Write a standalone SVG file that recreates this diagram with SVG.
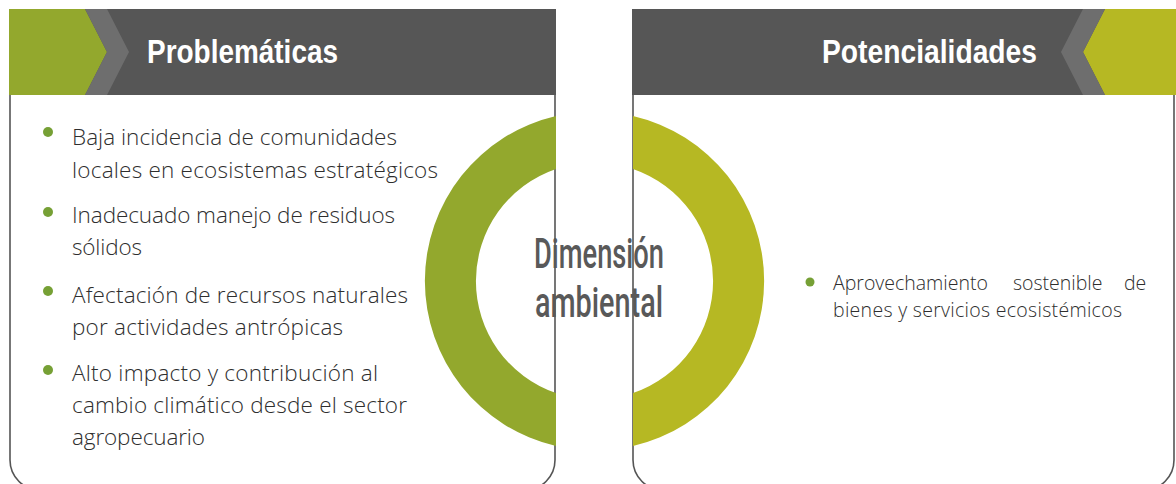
<svg xmlns="http://www.w3.org/2000/svg" width="1176" height="484" viewBox="0 0 1176 484">
  <style>
    .hdr { fill: #565656; }
    .chev { fill: #6e6e6e; }
    .body { fill: none; stroke: #555555; stroke-width: 1.6; }
    .title { font-family: "Liberation Sans", Arial, sans-serif; font-weight: bold; font-size: 33px; fill: #ffffff; }
    .item { font-family: "Open Sans", "Liberation Sans", sans-serif; font-weight: 300; font-size: 22.5px; fill: #2e2e2e; }
    .item2 { font-family: "Open Sans", "Liberation Sans", sans-serif; font-weight: 300; font-size: 19.5px; fill: #2e2e2e; }
    .dot { fill: #76a035; }
    .center { font-family: Roboto, "Liberation Sans", sans-serif; font-weight: 500; font-size: 42px; fill: #595959; }
  </style>
  <rect width="1176" height="484" fill="#ffffff"/>
  <g id="connectors"></g>

  <g id="problematicas">
    <rect class="hdr" x="9" y="9" width="547" height="86"/>
    <polygon fill="#93a82d" points="9,9 85,9 107,52 85,95 9,95"/>
    <polygon class="chev" points="85,9 107,9 129,52 107,95 85,95 107,52"/>
    <text class="title" x="147" y="63" textLength="191" lengthAdjust="spacingAndGlyphs">Problemáticas</text>
    <path class="body" d="M10,95 L10,460 A30,30 0 0 0 40,490 L525,490 A30,30 0 0 0 555,460 L555,95"/>
    <circle class="dot" cx="48" cy="132" r="5"/>
    <text class="item" x="72" y="145" textLength="325">Baja incidencia de comunidades</text>
    <text class="item" x="72" y="177.5" textLength="366">locales en ecosistemas estratégicos</text>
    <circle class="dot" cx="48" cy="212" r="5"/>
    <text class="item" x="72" y="223" textLength="323">Inadecuado manejo de residuos</text>
    <text class="item" x="72" y="255" textLength="70">sólidos</text>
    <circle class="dot" cx="48" cy="291" r="5"/>
    <text class="item" x="72" y="303" textLength="336">Afectación de recursos naturales</text>
    <text class="item" x="72" y="335" textLength="271">por actividades antrópicas</text>
    <circle class="dot" cx="48" cy="370" r="5"/>
    <text class="item" x="72" y="381" textLength="306">Alto impacto y contribución al</text>
    <text class="item" x="72" y="413" textLength="335">cambio climático desde el sector</text>
    <text class="item" x="72" y="445" textLength="133">agropecuario</text>
  </g>

  <g id="potencialidades">
    <rect class="hdr" x="632" y="9" width="544" height="86"/>
    <polygon fill="#b6b823" points="1105,9 1176,9 1176,95 1105,95 1083,52"/>
    <polygon class="chev" points="1083,9 1105,9 1083,52 1105,95 1083,95 1061,52"/>
    <text class="title" x="1037" y="63" text-anchor="end" textLength="215" lengthAdjust="spacingAndGlyphs">Potencialidades</text>
    <path class="body" d="M633,95 L633,460 A30,30 0 0 0 663,490 L1144,490 A30,30 0 0 0 1174,460 L1174,95"/>
    <circle class="dot" cx="810" cy="282" r="4.5"/>
    <text class="item2" y="290"><tspan x="833">Aprovechamiento</tspan><tspan x="1013">sostenible</tspan><tspan x="1124">de</tspan></text>
    <text class="item2" x="833" y="317" textLength="289">bienes y servicios ecosistémicos</text>
  </g>

  <g id="dimension-ambiental">
    <path fill="#93a82d" d="M556,115.9 A169.5,169.5 0 0 0 556,446.1 L556,393.1 A118.5,118.5 0 0 1 556,168.9 Z"/>
    <path fill="#b6b823" d="M633,115.9 A169.5,169.5 0 0 1 633,446.1 L633,393.1 A118.5,118.5 0 0 0 633,168.9 Z"/>
    <text class="center" x="534" y="268" textLength="130" lengthAdjust="spacingAndGlyphs">Dimensión</text>
    <text class="center" x="535" y="317" textLength="128" lengthAdjust="spacingAndGlyphs">ambiental</text>
  </g>
</svg>
